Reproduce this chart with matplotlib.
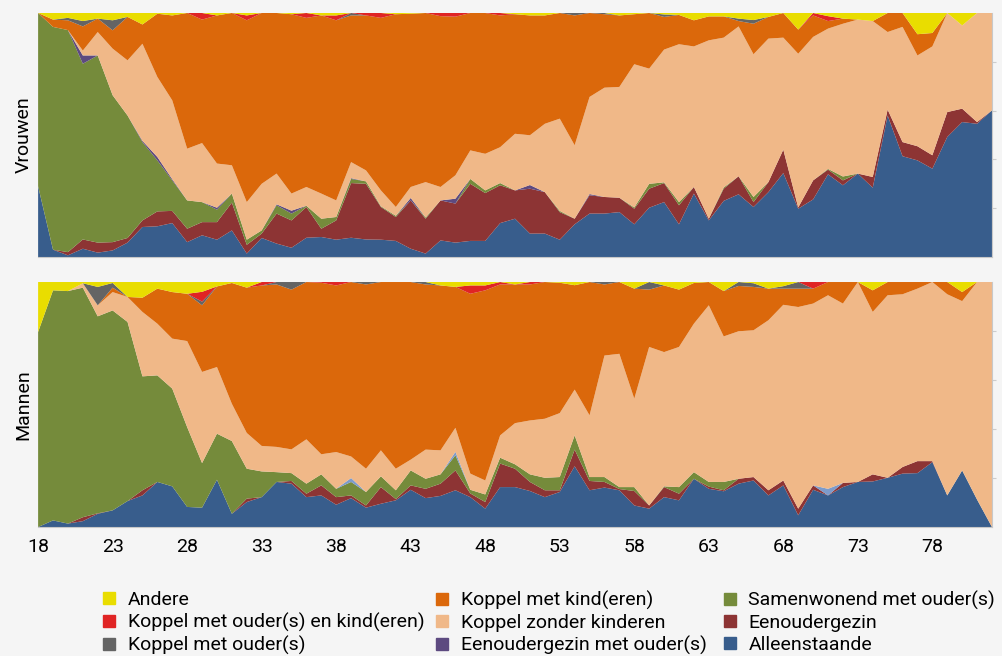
import matplotlib
matplotlib.use("Agg")
import matplotlib.pyplot as plt
import numpy as np

ages = list(range(18, 83))
xticks = list(range(18, 82, 5))

# shares in percent per age (18..82)
v_alleen = [29, 3, 0.7, 3.4, 1.8,
            2.7, 5.9, 12.3, 12.6, 13.9,
            6.1, 8.9, 7.1, 10.9, 1.4,
            7.8, 5.5, 3.8, 7.9, 8.2,
            7.1, 7.9, 7.2, 7.1, 6.6,
            3.4, 1.4, 6.8, 5.9, 6.6,
            6.6, 13.9, 15.7, 9.6, 9.6,
            7.1, 13.4, 17.8, 17.8, 18.4,
            13.4, 20.2, 22.5, 13.4, 26,
            15, 23, 25.7, 20.5, 26.6,
            34.4, 19.8, 23.6, 33.9, 29.4,
            34.2, 28.4, 58, 41.3, 39.6,
            36.2, 49.2, 55.3, 54.6, 60.1]
v_eenouder = [0, 0, 1.3, 3.8, 4.1,
              3.4, 1.9, 2.7, 6.1, 5,
              5.5, 5.4, 7.2, 11.4, 3.6,
              1.8, 12.3, 11.2, 12.6, 3.4,
              7.9, 22.4, 22.8, 13.4, 9.8,
              19.8, 14.3, 16.4, 16, 23.4,
              19.6, 15.5, 11.6, 18.4, 17,
              11.3, 2.3, 7.5, 6.8, 5.9,
              6.4, 7.8, 7.8, 7.8, 2.7,
              0.7, 5, 7.4, 2, 4.1,
              9.6, 0.5, 7.8, 1.9, 2,
              0, 4.4, 2.4, 5.8, 5.8,
              5.5, 10.2, 5.5, 0.7, 0]
v_samen = [71, 91.3, 91, 72, 76.7,
           60.2, 50.2, 32.1, 20.9, 12.5,
           11.6, 8.2, 5.1, 3.7, 2.1,
           1.3, 3.4, 2.8, 0.5, 4.1,
           1.4, 1.7, 1, 0.3, 0.5,
           0, 0.5, 0, 0, 2,
           1.1, 0.9, 0, 0, 0,
           0.5, 0, 0, 0, 0,
           0.5, 2, 0.3, 1.3, 0,
           0, 0.5, 0, 2.1, 0,
           0, 0, 0, 0.3, 1.6,
           0, 0, 0, 0, 0,
           0, 0, 0, 0, 0]
v_eenouder_ouders = {21: 3.4, 25: 0.5, 26: 1.4, 27: 0.5, 30: 0.8, 34: 0.4,
                     35: 1.2, 39: 0.3, 43: 1, 46: 2, 51: 1.5, 55: 0.5}
v_overig = {}
v_zonder = [0, 0, 0, 2, 9.6,
            19.1, 22.6, 39.8, 32.8, 32.3,
            21.2, 24.2, 18.1, 11.6, 15.4,
            19.1, 12.6, 7, 7.7, 10.3,
            6.8, 6.6, 4.5, 6.5, 3.6,
            4.5, 14.5, 5.5, 9.6, 11.7,
            15, 14.7, 23.2, 20.4, 28,
            37.8, 30.1, 39.8, 44.8, 45.4,
            58.7, 47.2, 54.4, 64.7, 57.6,
            73.1, 61.4, 61.4, 58.5, 58.8,
            45.9, 63, 58.8, 57.5, 62.6,
            63.1, 63.9, 31.8, 47.2, 37.2,
            44.6, 40.6, 34.1, 44.7, 39.9]
v_kind = [0, 3, 4, 9.9, 5.5,
          7.5, 17.8, 7.9, 25.9, 34.8,
          55.6, 50.6, 60.7, 62.4, 74.5,
          70, 65.8, 73.5, 69.3, 73,
          73.8, 60.1, 63.5, 70.7, 79,
          71, 69.3, 70, 65, 56.3,
          57.7, 54, 49, 49.1, 44.4,
          43.3, 53.2, 34.4, 30.1, 29.3,
          20.5, 22.8, 13.4, 12, 10.7,
          9.8, 8.7, 2.2, 12.5, 8.9,
          10.1, 9.9, 8.8, 3.1, 2.1,
          0, 0, 7.8, 5.7, 8.7,
          5.5, 0, 0, 0, 0]
v_koppel_ouders = {20: 1, 21: 2.2, 23: 4.1, 39: 1, 54: 1, 56: 0.5, 60: 1,
                   65: 1, 66: 1.5}
v_koppel_ouders_kind = {29: 2.7, 32: 2, 36: 2, 38: 2, 40: 1, 41: 2, 45: 1.3,
                        46: 1.5, 49: 1, 70: 1, 71: 2}
v_andere = {19: 2.7, 20: 2, 21: 3.3, 22: 2.3, 23: 3, 24: 1.6, 25: 4.7,
            26: 0.3, 27: 1, 30: 1, 32: 1, 35: 0.5, 37: 1, 38: 1, 42: 0.5,
            43: 0.3, 50: 0.5, 51: 1, 52: 1, 57: 1, 58: 0.5, 60: 0.6,
            61: 0.8, 62: 3, 63: 1.4, 64: 1.4, 65: 2.3, 66: 2.9, 67: 1.6,
            69: 6.8, 71: 1.3, 72: 2.3, 73: 2.7, 74: 3.3, 77: 8.7, 78: 8.2,
            80: 5.1}

m_alleen = [0, 2.7, 1.4, 2.4, 5.4,
            6.8, 10.6, 12.9, 18.4, 16.6,
            8.2, 7.9, 19.3, 5.4, 10.2,
            12.2, 18.4, 17.7, 12.2, 12.9,
            9.1, 11.8, 7.9, 9.5, 10.9,
            15.2, 11.8, 12.7, 15, 12.2,
            7.5, 16.3, 16.3, 14.7, 12.2,
            14.3, 24.8, 15, 16.1, 15,
            8.8, 7.5, 12.2, 10.9, 19.7,
            15.6, 14.6, 17.7, 19, 12.9,
            17, 4.8, 15.2, 12.9, 16.3,
            18.4, 18.6, 20.1, 21.8, 22,
            26.5, 12.9, 23.1, 11.2, 0]
m_eenouder = [0, 0, 0, 1.6, 0.2,
              0, 0, 2.1, 0, 0,
              0, 0, 0, 0, 1.4,
              0, 0, 1.1, 1.4, 4.1,
              3.1, 1.1, 0.9, 6.8, 0.5,
              1.8, 3.8, 5, 8.1, 1.5,
              2.7, 9.6, 7.5, 3.7, 2.8,
              0.7, 6.8, 3.8, 2.3, 0.5,
              5.9, 1.3, 4.1, 2.7, 0,
              0.9, 0.4, 2, 1.4, 2.1,
              2, 2.7, 1.8, 0, 1.7,
              0, 2.9, 0, 2.7, 4.9,
              0.4, 0, 0, 0, 0]
m_samen = [79.6, 93.9, 94.9, 93.7, 80.4,
           81.6, 73.1, 46.5, 43.5, 39.9,
           32.6, 18.2, 18.8, 29.7, 12.2,
           10.5, 4, 3.2, 4.1, 4.5,
           3.4, 5.5, 5.5, 4.4, 3.6,
           6.1, 4.1, 3.8, 6.2, 1.5,
           3.1, 2.4, 1.8, 3.1, 5.1,
           5.4, 5.8, 1.6, 2, 0.8,
           1.6, 0, 0.3, 2.7, 2.7,
           1.9, 3.4, 0, 0, 0,
           0, 0, 0, 0, 0,
           0, 0, 0, 0, 0,
           0, 0, 0, 0, 0]
m_eenouder_ouders = {}
m_overig = {39: 1.6, 46: 1.4, 71: 2.7}
m_zonder = [0, 0, 0, 1.8, 4.5,
            7.5, 10.2, 26.3, 21.1, 20.4,
            35.1, 37.2, 27.2, 15.2, 14.6,
            10.4, 10.3, 9.7, 18.1, 8.2,
            15, 8.8, 9.5, 10.6, 8.8,
            4.4, 11.9, 9.8, 9.8, 6.6,
            5.7, 9.1, 16.8, 22, 24.1,
            26.1, 18.7, 25.2, 49.6, 54.4,
            36.1, 64.7, 54.8, 57.2, 60.6,
            72.1, 59.4, 60.2, 59.9, 69.4,
            71.7, 82.3, 74.2, 79, 73.2,
            81.6, 66.3, 74.5, 70.5, 70.4,
            73.1, 82.1, 69.1, 88.8, 100]
m_kind = [0, 0, 0, 0, 0,
          1.8, 0, 5.8, 14.3, 19,
          19.3, 27.2, 32.9, 49.3, 59.3,
          65.5, 66.3, 65.2, 64.2, 70,
          68, 71.2, 75.2, 68.7, 76.2,
          72.5, 67.4, 67.3, 57.5, 73.4,
          77.6, 61.6, 56.6, 55.5, 55.8,
          53.2, 42.6, 54.4, 29, 29.3,
          44.9, 23.4, 27.2, 23.4, 16.6,
          9.5, 18.5, 18.5, 17.7, 12.9,
          6.6, 7.5, 6.1, 5.4, 8.8,
          0, 8.8, 5.4, 5, 2.7,
          0, 5, 3.7, 0, 0]
m_koppel_ouders = {22: 7.5, 23: 1.9, 29: 1.5, 34: 1, 35: 3.1, 40: 1, 44: 1,
                   56: 1, 59: 3.1, 65: 1.6, 66: 1.5, 68: 1, 69: 2.7}
m_koppel_ouders_kind = {29: 4, 33: 1.4, 37: 0.3, 38: 1.4, 47: 3.4, 48: 2,
                        49: 1, 51: 1, 70: 2.7}
m_andere = {18: 20.4, 19: 3.4, 20: 3.7, 21: 0.5, 22: 2, 23: 0.4, 24: 6.1,
            25: 6.4, 26: 2.7, 27: 4.1, 28: 4.8, 29: 4, 30: 1.8, 31: 0.4,
            32: 2.3, 45: 1.4, 46: 2, 47: 1.4, 48: 1.4, 50: 1, 53: 0.3,
            54: 1.3, 58: 2.7, 60: 1.4, 61: 3.1, 62: 0.4, 64: 3.7, 66: 0.5,
            67: 2.7, 68: 1.7, 74: 3.4, 80: 4.1}

labels = ["Alleenstaande", "Eenoudergezin", "Samenwonend met ouder(s)",
          "Eenoudergezin met ouder(s)", None, "Koppel zonder kinderen",
          "Koppel met kind(eren)", "Koppel met ouder(s)",
          "Koppel met ouder(s) en kind(eren)", "Andere"]
colors = ["#385d8c", "#8d3434", "#758b3b", "#5d4a80", "#7d9bcb",
          "#f0b888", "#db680b", "#646464", "#e02424", "#e9dd00"]


def expand(d):
    return [d.get(a, 0) for a in ages]


def series(*parts):
    out = [np.array(p if isinstance(p, list) else expand(p), float) for p in parts]
    tot = np.sum(out, axis=0)
    return [o / tot * 100 for o in out]


vrouwen = series(v_alleen, v_eenouder, v_samen, v_eenouder_ouders, v_overig,
                 v_zonder, v_kind, v_koppel_ouders, v_koppel_ouders_kind, v_andere)
mannen = series(m_alleen, m_eenouder, m_samen, m_eenouder_ouders, m_overig,
                m_zonder, m_kind, m_koppel_ouders, m_koppel_ouders_kind, m_andere)

plt.rcParams["font.family"] = ["Roboto", "DejaVu Sans"]
bg = "#f5f5f5"
fig = plt.figure(figsize=(10.03, 6.56), dpi=100, facecolor=bg)
ax1 = fig.add_axes([0.038, 0.6082, 0.951, 0.372])
ax2 = fig.add_axes([0.038, 0.1966, 0.951, 0.3735])

for ax, data, name in [(ax1, vrouwen, "Vrouwen"), (ax2, mannen, "Mannen")]:
    ax.stackplot(ages, *data, colors=colors, linewidth=0)
    ax.set_facecolor(bg)
    ax.set_xlim(18, 82)
    ax.set_ylim(0, 100)
    ax.set_xticks(xticks)
    ax.set_yticks([20, 40, 60, 80])
    ax.yaxis.tick_right()
    ax.tick_params(axis="y", length=3, color="#cccccc", labelright=False)
    ax.tick_params(axis="x", length=0, labelsize=14, pad=8)
    for s in ["top", "left"]:
        ax.spines[s].set_visible(False)
    for s in ["bottom", "right"]:
        ax.spines[s].set_color("#c8c8c8")
    ax.set_ylabel(name, fontsize=14, labelpad=4)

ax1.tick_params(axis="x", labelbottom=False)

# legend in three columns, each placed at its own x position
columns = [[9, 8, 7], [6, 5, 3], [2, 1, 0]]
col_x = [0.103, 0.435, 0.722]
for idxs, x in zip(columns, col_x):
    handles = [plt.Rectangle((0, 0), 1, 1, color=colors[i], label=labels[i])
               for i in idxs]
    fig.legend(handles=handles, loc="upper left", bbox_to_anchor=(x, 0.099),
               frameon=False, fontsize=14, handlelength=0.6,
               handleheight=0.6, handletextpad=0.65, labelspacing=0.2,
               borderaxespad=0, borderpad=0)

fig.savefig("out.png", dpi=100, facecolor=bg)
